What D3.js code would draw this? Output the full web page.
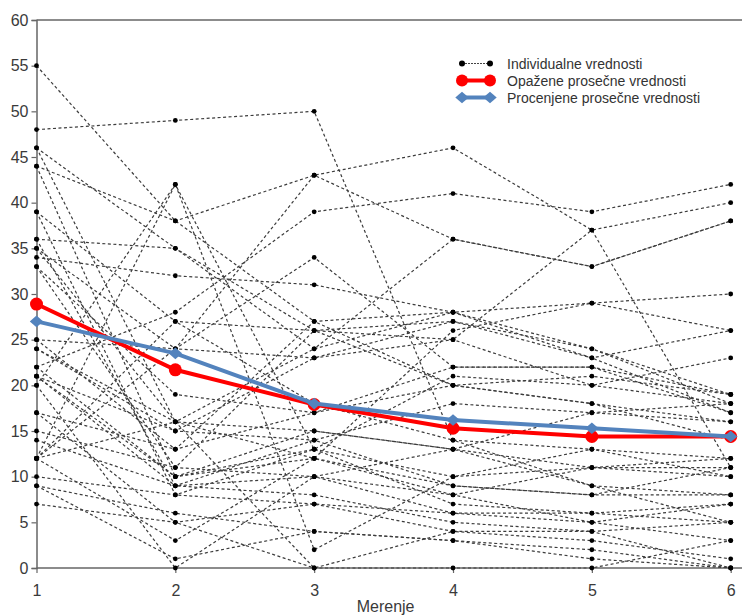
<!DOCTYPE html>
<html>
<head>
<meta charset="utf-8">
<script src="https://cdn.jsdelivr.net/npm/d3@7"></script>
<style>
  html, body { margin: 0; padding: 0; background: #fff; }
  svg { display: block; font-family: Arial, "Liberation Sans", sans-serif; }
</style>
</head>
<body>
<svg id="chart" width="742" height="616"></svg>
<script>
// Measurement occasions
const occasions = [1, 2, 3, 4, 5, 6];
const yTicks = [0, 5, 10, 15, 20, 25, 30, 35, 40, 45, 50, 55, 60];

// Individual trajectories (one row per subject, values at occasions 1..6)
const subjects = [
  [48, 49, 50, 14, 9, 5],
  [44, 38, 43, 46, 37, 40],
  [55, 38, 27, 28, 24, 19],
  [22, 28, 39, 41, 39, 42],
  [36, 35, 24, 36, 33, 38],
  [34, 32, 31, 28, 29, 30],
  [20, 42, 13, 21, 20, 23],
  [12, 42, 2, 10, 13, 12],
  [46, 16, 12, 26, 29, 26],
  [39, 27, 26, 25, 37, 11],
  [35, 24, 34, 22, 22, 17],
  [33, 19, 17, 20, 18, 14],
  [25, 24, 23, 27, 24, 18],
  [24, 16, 15, 13, 11, 10],
  [21, 15, 14, 9, 8, 8],
  [21, 10, 13, 7, 6, 7],
  [17, 13, 27, 20, 21, 19],
  [15, 11, 10, 6, 5, 3],
  [14, 9, 8, 5, 4, 5],
  [12, 27, 18, 14, 13, 10],
  [10, 8, 7, 4, 3, 1],
  [9, 6, 4, 3, 2, 0],
  [7, 5, 0, 0, 0, 3],
  [12, 3, 12, 8, 11, 12],
  [9, 1, 4, 3, 1, 0],
  [20, 0, 10, 13, 9, 8],
  [33, 11, 26, 27, 23, 26],
  [22, 10, 12, 9, 8, 11],
  [25, 13, 17, 22, 22, 19],
  [35, 16, 24, 28, 23, 17],
  [21, 9, 14, 18, 17, 16],
  [17, 5, 7, 6, 6, 5],
  [24, 15, 23, 25, 20, 18],
  [46, 35, 26, 20, 18, 16],
  [44, 10, 15, 13, 17, 18],
  [39, 8, 13, 10, 11, 11],
  [36, 9, 10, 8, 5, 7],
  [12, 24, 43, 36, 33, 38],
  [12, 16, 0, 4, 4, 0]
];

// Group means
const observedMeans = [28.9, 21.7, 17.9, 15.3, 14.4, 14.4];
const estimatedMeans = [27.0, 23.5, 18.0, 16.2, 15.3, 14.4];

const legendLabels = [
  "Individualne vrednosti",
  "Opažene prosečne vrednosti",
  "Procenjene prosečne vrednosti"
];
const xTitle = "Merenje";

const svg = d3.select("#chart");
const plotLeft = 36.5, plotRight = 730.7, plotTop = 20, plotBottom = 568;

const x = d3.scaleLinear().domain([1, 6]).range([plotLeft, plotRight]);
const y = d3.scaleLinear().domain([0, 60]).range([plotBottom, plotTop]);

const axisColor = "#666";
const textColor = "#3a3a3a";

// Frame line along the top
svg.append("line")
  .attr("x1", plotLeft).attr("x2", 742).attr("y1", plotTop).attr("y2", plotTop)
  .attr("stroke", axisColor).attr("stroke-width", 1.5);

const yAxis = svg.append("g")
  .attr("transform", `translate(${plotLeft},0)`)
  .call(d3.axisLeft(y).tickValues(yTicks).tickSize(5).tickPadding(3));
yAxis.select(".domain").attr("stroke", axisColor).attr("stroke-width", 1.5);
yAxis.selectAll(".tick line").attr("stroke", axisColor).attr("stroke-width", 1.2);
yAxis.selectAll(".tick text")
  .attr("fill", textColor).style("font-size", "16px");

const xAxis = svg.append("g")
  .attr("transform", `translate(0,${plotBottom})`)
  .call(d3.axisBottom(x).tickValues(occasions).tickFormat(d3.format("d")).tickSize(5).tickPadding(12));
xAxis.select(".domain").remove();
xAxis.append("line")
  .attr("x1", plotLeft).attr("x2", 742).attr("y1", 0).attr("y2", 0)
  .attr("stroke", axisColor).attr("stroke-width", 1.5);
xAxis.selectAll(".tick line").attr("stroke", axisColor).attr("stroke-width", 1.2);
xAxis.selectAll(".tick text")
  .attr("fill", textColor).style("font-size", "16px");

svg.append("text")
  .attr("x", (plotLeft + plotRight) / 2 + 2).attr("y", 612)
  .attr("text-anchor", "middle")
  .attr("fill", textColor).style("font-size", "16px")
  .text(xTitle);

// Individual trajectories
const line = d3.line().x((d, i) => x(occasions[i])).y(d => y(d));

const indiv = svg.append("g");
indiv.selectAll("path.subj")
  .data(subjects)
  .join("path")
  .attr("class", "subj")
  .attr("d", line)
  .attr("fill", "none")
  .attr("stroke", "#3c3c3c")
  .attr("stroke-width", 1.2)
  .attr("stroke-dasharray", "3,2.5");

const pts = subjects.flatMap(s => s.map((v, i) => ({ x: occasions[i], v })));
indiv.selectAll("circle")
  .data(pts)
  .join("circle")
  .attr("cx", d => x(d.x))
  .attr("cy", d => y(d.v))
  .attr("r", 2.4)
  .attr("fill", "#000");

// Observed means (red)
const red = "#ff0000";
svg.append("path")
  .datum(observedMeans)
  .attr("d", line)
  .attr("fill", "none")
  .attr("stroke", red)
  .attr("stroke-width", 4);
svg.append("g").selectAll("circle")
  .data(observedMeans)
  .join("circle")
  .attr("cx", (d, i) => x(occasions[i]))
  .attr("cy", d => y(d))
  .attr("r", 6.5)
  .attr("fill", red);

// Estimated means (blue)
const blue = "#5383bd";
svg.append("path")
  .datum(estimatedMeans)
  .attr("d", line)
  .attr("fill", "none")
  .attr("stroke", blue)
  .attr("stroke-width", 4);
const diamond = d3.symbol().type(d3.symbolDiamond2).size(95);
svg.append("g").selectAll("path")
  .data(estimatedMeans)
  .join("path")
  .attr("transform", (d, i) => `translate(${x(occasions[i])},${y(d)}) scale(1.1,0.95)`)
  .attr("d", diamond)
  .attr("fill", blue);

// Legend
const lg = svg.append("g").attr("transform", "translate(462,0)");
const rows = [63.5, 80.5, 97.5];

// row 1: individual values
lg.append("line").attr("x1", 0).attr("x2", 28).attr("y1", rows[0]).attr("y2", rows[0])
  .attr("stroke", "#444").attr("stroke-width", 1).attr("stroke-dasharray", "2,1");
[0, 28].forEach(cx => lg.append("circle").attr("cx", cx).attr("cy", rows[0]).attr("r", 3).attr("fill", "#000"));

// row 2: observed means
lg.append("line").attr("x1", 0).attr("x2", 28).attr("y1", rows[1]).attr("y2", rows[1])
  .attr("stroke", red).attr("stroke-width", 4);
[0, 28].forEach(cx => lg.append("circle").attr("cx", cx).attr("cy", rows[1]).attr("r", 6).attr("fill", red));

// row 3: estimated means
lg.append("line").attr("x1", 0).attr("x2", 28).attr("y1", rows[2]).attr("y2", rows[2])
  .attr("stroke", blue).attr("stroke-width", 4);
[0, 28].forEach(cx => lg.append("path")
  .attr("transform", `translate(${cx},${rows[2]}) scale(1.1,0.95)`)
  .attr("d", diamond).attr("fill", blue));

lg.selectAll("text.lbl")
  .data(legendLabels)
  .join("text")
  .attr("class", "lbl")
  .attr("x", 45)
  .attr("y", (d, i) => rows[i] + 5)
  .attr("fill", "#333")
  .style("font-size", "14px")
  .text(d => d);
</script>
</body>
</html>
